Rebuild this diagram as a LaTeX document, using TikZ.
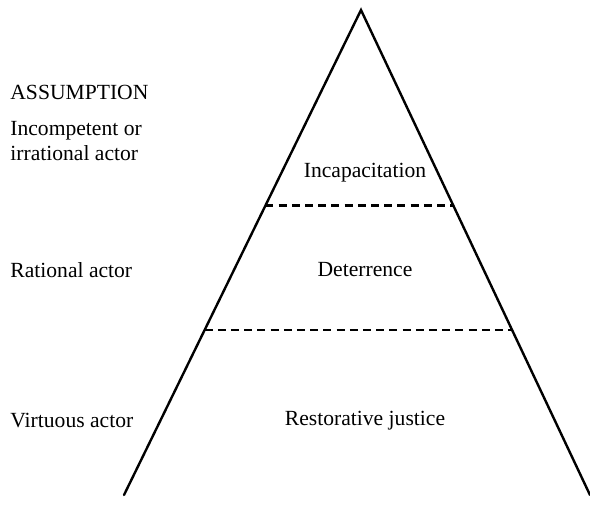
\documentclass[tikz,border=0pt]{standalone}
\usepackage{fontspec}
\setmainfont{Liberation Serif}
\usetikzlibrary{calc}
\tikzset{
    side/.style={line width=1.2pt,line cap=round},
    split/.style={line width=1.1pt,dash pattern=on 4pt off 2.6pt},
    lbl/.style={font=\fontsize{10.8}{11.6}\selectfont,inner sep=0pt},
}
\begin{document}
\begin{tikzpicture}[x=0.5pt,y=-0.5pt]
        \useasboundingbox (0,0) rectangle (590,505);
        %% Pyramid
        \coordinate (apex) at (361,10);
        \coordinate (bl) at (124,495);
        \coordinate (br) at (590,495);
        \draw[side] (bl) -- (apex) -- (br);
        \draw[split] ($(apex)!0.403!(bl)$) coordinate (s1l) -- ($(apex)!0.403!(br)$) coordinate (s1r);
        \draw[split] ($(apex)!0.66!(bl)$) coordinate (s2l) -- ($(apex)!0.66!(br)$) coordinate (s2r);
        %% Levels
        \node[lbl] (incap) at (365,173) {Incapacitation};
        \node[lbl] (deter) at (365,270) {Deterrence};
        \node[lbl] (resto) at (365,421) {Restorative justice};
        %% Labels
        \node[lbl,anchor=west] (assum) at (10,92) {ASSUMPTION};
        \node[lbl,anchor=west,align=left] (irrat) at (10,141) {Incompetent or\\[1pt]irrational actor};
        \node[lbl,anchor=west] (ratio) at (10,270) {Rational actor};
        \node[lbl,anchor=west] (virtu) at (10,421) {Virtuous actor};
    \end{tikzpicture}
\end{document}
